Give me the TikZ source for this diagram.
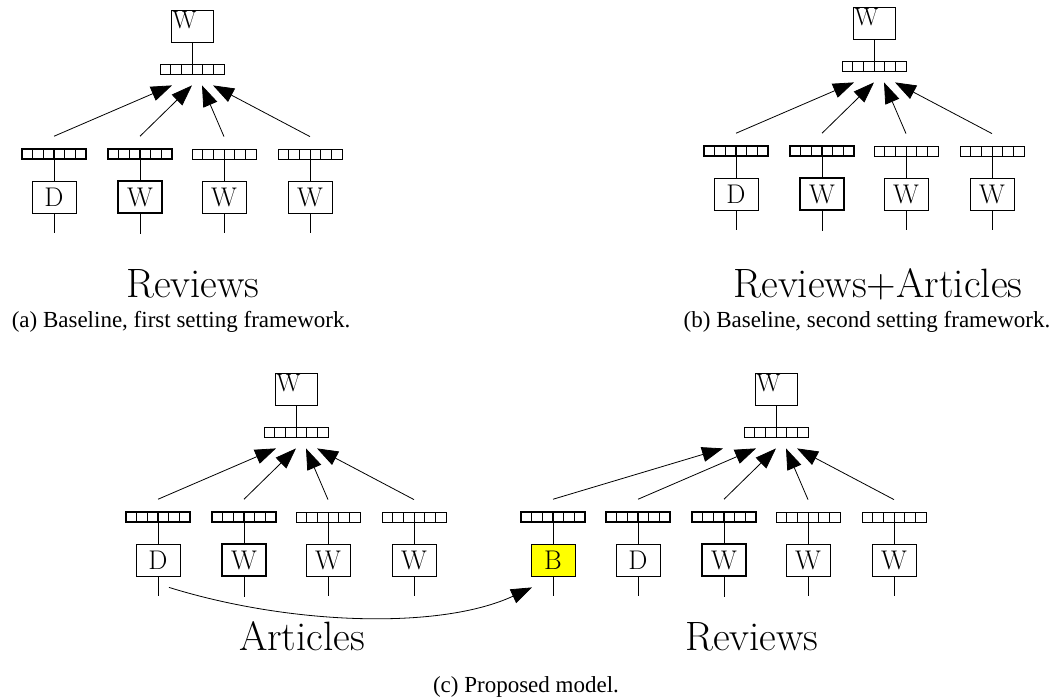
\documentclass[tikz,border=0pt]{standalone}
\usepackage{fontspec}
\newfontfamily\capfont{Liberation Serif}
\usepackage{tikz}
\usetikzlibrary{arrows.meta}

\begin{document}
\begin{tikzpicture}[x=1pt, y=-1pt, line width=0.8pt,
  box/.style={draw, minimum width=44pt, minimum height=32pt, inner sep=0pt, font=\fontsize{27}{27}\selectfont},
  topbox/.style={draw, minimum width=42pt, minimum height=32pt, inner sep=0pt},
  vec/.style={draw, minimum width=64pt, minimum height=10pt, inner sep=0pt,
    path picture={\foreach \k in {1,...,5}
      \draw ([xshift=\k*10.667pt]path picture bounding box.south west) -- ([xshift=\k*10.667pt]path picture bounding box.north west);}},
  hot/.style={line width=1.5pt},
  cold/.style={line width=0.8pt},
  feed/.style={-{Triangle[length=21pt,width=15pt]}},
  lbl/.style={anchor=base, font=\fontsize{41}{41}\selectfont},
  captext/.style={anchor=base, font=\capfont\fontsize{23}{24}\selectfont}]
\useasboundingbox (0,0) rectangle (1055,698);
\definecolor{bertYel}{HTML}{FFFF00}

% the four trees: (a), (b), (c) left, (c) right
\foreach \g/\gx/\gy in {a/0/0, b/682/-3, c/104/363, d/584/363} {
  \node[topbox] (\g T) at (192+\gx,26+\gy) {};
  \node[anchor=north west, inner sep=1.5pt, font=\fontsize{25}{25}\selectfont] (\g Tw) at (\g T.north west) {W};
  \node[vec] (\g V) at (192+\gx,69+\gy) {};
  \draw (\g T.south) -- (\g V.north);
  \foreach \i/\x/\t/\o/\vs/\bs in {1/54/D/-20/hot/cold, 2/140/W/0/hot/hot, 3/224/W/10/cold/cold, 4/310/W/21/cold/cold} {
    \node[vec,\vs] (\g V\i) at (\x+\gx,154+\gy) {};
    \node[box,\bs] (\g B\i) at (\x+\gx,197+\gy) {\t};
    \draw (\g V\i.south) -- (\g B\i.north);
    \draw (\g B\i.south) -- ++(0,20);
    \draw[feed] ([yshift=12pt]\g V\i.north) -- ([xshift=\o pt, yshift=-11pt]\g V.south);
  }
}

% extra input in front of (c) right
\node[vec,hot] (dV0) at (553,517) {};
\node[box,fill=bertYel] (dB0) at (553,560) {B};
\draw (dV0.south) -- (dB0.north);
\draw (dB0.south) -- ++(0,20);
\draw[feed] ([yshift=12pt]dV0.north) -- ([xshift=-53pt, yshift=-11pt]dV.south);
\draw[feed] ([xshift=11pt, yshift=-11pt]cB1.south) .. controls (290,625) and (440,630) .. ([xshift=-21pt, yshift=-11pt]dB0.south);

\node[lbl] (aL) at (193,297) {Reviews};
\node[captext] (aC) at (181,327) {(a) Baseline, first setting framework.};
\node[lbl] (bL) at (878,297) {Reviews+Articles};
\node[captext] (bC) at (867,327) {(b) Baseline, second setting framework.};
\node[lbl] (cL1) at (302,650) {Articles};
\node[lbl] (cL2) at (752,650) {Reviews};
\node[captext] (cC) at (526,692) {(c) Proposed model.};
\end{tikzpicture}
\end{document}
